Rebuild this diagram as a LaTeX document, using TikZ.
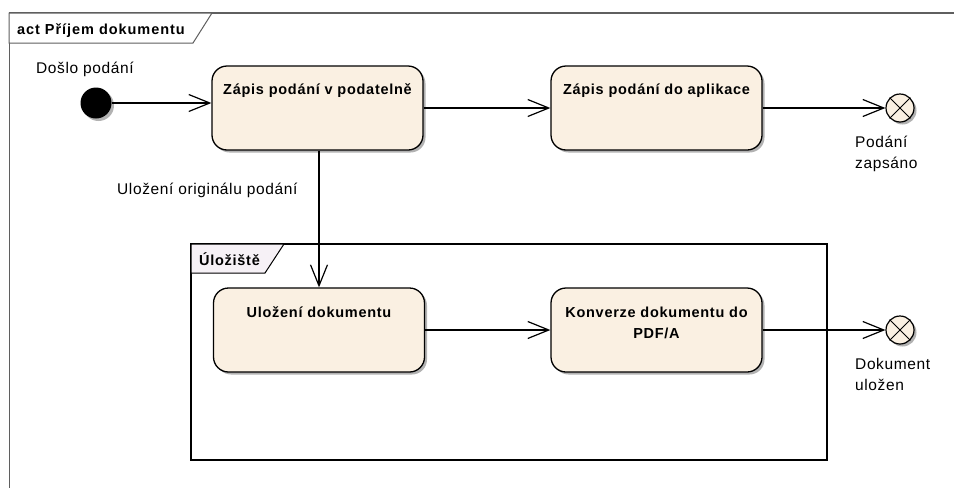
\documentclass[tikz,border=0pt]{standalone}
\usepackage{fontspec}
\setmainfont{Liberation Sans}
\newfontfamily\lblfont{Liberation Sans}[LetterSpace=4]
\newfontfamily\actfont{Liberation Sans}[LetterSpace=5]
\newfontfamily\titlefont{Liberation Sans}[LetterSpace=6.5]
\usetikzlibrary{arrows.meta,shadows}
\definecolor{actfill}{RGB}{250,240,226}
\definecolor{tabfill}{RGB}{246,241,246}
\definecolor{framegray}{RGB}{95,95,95}
\tikzset{
  shade3/.style={drop shadow={shadow xshift=2.5pt,shadow yshift=-2.5pt,fill=black,opacity=0.3}},
  actionbox/.style={draw=black,line width=1.3pt,fill=actfill,rounded corners=15pt,
    minimum width=211pt,minimum height=84pt,inner sep=0pt,shade3},
  acttext/.style={font=\actfont\bfseries\fontsize{14.5}{21}\selectfont,inner sep=0pt,align=center},
  lbl/.style={font=\lblfont\fontsize{15.5}{21}\selectfont,inner sep=0pt,align=left},
  flow/.style={line width=1.2pt,-{Straight Barb[length=21pt,width=17pt,line width=1.2pt]}},
  startnode/.style={circle,fill=black,minimum size=31pt,inner sep=0pt,shade3},
  endnode/.style={circle,draw=black,line width=1.2pt,fill=actfill,minimum size=28pt,inner sep=0pt,shade3},
}
\begin{document}
\begin{tikzpicture}[x=1pt,y=-1pt]
\useasboundingbox (0,0) rectangle (954,488);
\fill[white] (0,0) rectangle (954,488);

% outer activity frame and its name tab
\draw[framegray,line width=1.6pt] (9,13) -- (954,13);
\draw[framegray,line width=0.8pt] (9,13) -- (9,488);
\draw[framegray,line width=1pt,fill=white] (9,13) -- (212,13) -- (193,43) -- (9,43) -- cycle;
\node[acttext,font=\titlefont\bfseries\fontsize{14.5}{21}\selectfont,anchor=base west] (title) at (17,34) {act Příjem dokumentu};

% storage partition
\draw[black,line width=1.4pt] (191,244) rectangle (827,460);
\draw[black,line width=1pt,fill=tabfill] (191,244) -- (284,244) -- (265,273) -- (191,273) -- cycle;
\node[acttext,anchor=base west] (parttitle) at (199,265) {Úložiště};

% initial and final nodes
\node[startnode] (start) at (96,103) {};
\node[lbl,anchor=base west] (startlbl) at (36,73) {Došlo podání};

\node[endnode] (end1) at (900,108) {};
\draw[line width=1pt] (end1.north west) -- (end1.south east) (end1.north east) -- (end1.south west);
% multi-line labels: the base anchor sits on the last line
\node[lbl,anchor=base west] (end1lbl) at (855,168) {Podání\\zapsáno};

\node[endnode] (end2) at (900,330) {};
\draw[line width=1pt] (end2.north west) -- (end2.south east) (end2.north east) -- (end2.south west);
\node[lbl,anchor=base west] (end2lbl) at (855,390) {Dokument\\uložen};

% actions
\node[actionbox] (a1) at (317.5,108) {};
\node[acttext,anchor=base] (a1t) at (317.5,94) {Zápis podání v podatelně};
\node[actionbox] (a2) at (656.5,108) {};
\node[acttext,anchor=base] (a2t) at (656.5,94) {Zápis podání do aplikace};
\node[actionbox] (a3) at (319,330) {};
\node[acttext,anchor=base] (a3t) at (319,317) {Uložení dokumentu};
\node[actionbox] (a4) at (656.5,330) {};
\node[acttext,anchor=base] (a4t) at (656.5,338) {Konverze dokumentu do\\PDF/A};

% control flows
\draw[flow] (start.east) -- (a1.west |- start.east);
\draw[flow] (a1.east) -- (a2.west);
\draw[flow] (a2.east) -- (end1.west);
\draw[flow] (a1.south -| a3.north) -- (a3.north);
\node[lbl,anchor=base west] (flowlbl) at (117,194) {Uložení originálu podání};
\draw[flow] (a3.east) -- (a4.west);
\draw[flow] (a4.east) -- (end2.west);
\end{tikzpicture}
\end{document}
